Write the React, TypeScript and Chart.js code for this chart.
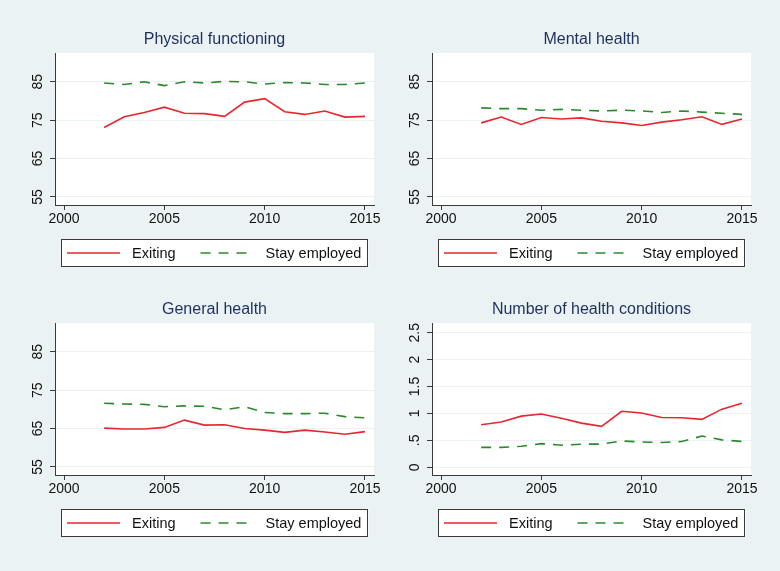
import React, { useEffect, useRef } from "react";
import { Chart, registerables } from "chart.js";

Chart.register(...registerables);

// ---------- data ----------
const years = [2002, 2003, 2004, 2005, 2006, 2007, 2008, 2009, 2010, 2011, 2012, 2013, 2014, 2015];

const physicalExiting = [73.1, 75.9, 77.0, 78.4, 76.8, 76.7, 76.0, 79.7, 80.6, 77.2, 76.5, 77.4, 75.8, 76.0];
const physicalStay = [84.7, 84.3, 85.0, 84.0, 85.0, 84.7, 85.1, 85.0, 84.4, 84.8, 84.7, 84.3, 84.3, 84.7];

const mentalExiting = [74.3, 75.8, 73.9, 75.7, 75.3, 75.6, 74.7, 74.3, 73.6, 74.5, 75.1, 75.9, 73.9, 75.3];
const mentalStay = [78.2, 78.0, 78.0, 77.6, 77.8, 77.6, 77.4, 77.6, 77.4, 77.0, 77.4, 77.1, 76.8, 76.5];

const generalExiting = [65.1, 64.9, 64.9, 65.3, 67.2, 65.9, 66.0, 65.0, 64.6, 64.0, 64.6, 64.1, 63.5, 64.2];
const generalStay = [71.6, 71.4, 71.3, 70.7, 70.9, 70.8, 69.9, 70.7, 69.2, 68.9, 68.9, 69.0, 68.1, 67.8];

const conditionsExiting = [0.79, 0.84, 0.95, 0.99, 0.91, 0.82, 0.76, 1.04, 1.01, 0.925, 0.92, 0.89, 1.08, 1.19];
const conditionsStay = [0.37, 0.37, 0.39, 0.44, 0.41, 0.43, 0.43, 0.49, 0.47, 0.46, 0.48, 0.58, 0.51, 0.48];

const xTicks = [2000, 2005, 2010, 2015];
const scoreTicks = [55, 65, 75, 85];
const scoreTickLabels = ["55", "65", "75", "85"];
const countTicks = [0, 0.5, 1, 1.5, 2, 2.5];
const countTickLabels = ["0", ".5", "1", "1.5", "2", "2.5"];

const seriesNames = ["Exiting", "Stay employed"];
const titles = ["Physical functioning", "Mental health", "General health", "Number of health conditions"];

// ---------- styling ----------
const BG = "#eaf2f3";
const RED = "#e8262e";
const GREEN = "#2a8a2a";
const AXIS = "#3a3a3a";
const TITLE_COLOR = "#1f2f5e";
const FONT = '"Liberation Sans", Arial, Helvetica, sans-serif';
const DASH = [10, 8];

type Panel = {
  left: number;
  top: number;
  width: number;
  height: number;
  pad: { left: number; right: number; top: number; bottom: number };
  title: string;
  exiting: number[];
  stay: number[];
  yMin: number;
  yMax: number;
  yTicks: number[];
  yLabels: string[];
};

const panels: Panel[] = [
  {
    left: 0, top: 0, width: 390, height: 285,
    pad: { left: 15, right: 16, top: 53, bottom: 50 },
    title: titles[0], exiting: physicalExiting, stay: physicalStay,
    yMin: 52.9, yMax: 92.5, yTicks: scoreTicks, yLabels: scoreTickLabels,
  },
  {
    left: 390, top: 0, width: 390, height: 285,
    pad: { left: 2, right: 29, top: 53, bottom: 50 },
    title: titles[1], exiting: mentalExiting, stay: mentalStay,
    yMin: 52.9, yMax: 92.5, yTicks: scoreTicks, yLabels: scoreTickLabels,
  },
  {
    left: 0, top: 285, width: 390, height: 286,
    pad: { left: 15, right: 16, top: 38, bottom: 66 },
    title: titles[2], exiting: generalExiting, stay: generalStay,
    yMin: 52.9, yMax: 92.5, yTicks: scoreTicks, yLabels: scoreTickLabels,
  },
  {
    left: 390, top: 285, width: 390, height: 286,
    pad: { left: 2, right: 29, top: 38, bottom: 66 },
    title: titles[3], exiting: conditionsExiting, stay: conditionsStay,
    yMin: -0.143, yMax: 2.68, yTicks: countTicks, yLabels: countTickLabels,
  },
];

function PanelChart({ p }: { p: Panel }) {
  const ref = useRef<HTMLCanvasElement | null>(null);

  useEffect(() => {
    const canvas = ref.current;
    if (!canvas) return;

    const decorations = {
      id: "stataDecor",
      beforeDraw(chart: any) {
        const { ctx, chartArea } = chart;
        ctx.save();
        ctx.fillStyle = "#ffffff";
        ctx.fillRect(chartArea.left, chartArea.top, chartArea.right - chartArea.left, chartArea.bottom - chartArea.top);
        ctx.restore();
      },
      afterDraw(chart: any) {
        const { ctx, chartArea } = chart;
        const cx = (chartArea.left + chartArea.right) / 2;
        ctx.save();

        // title
        ctx.fillStyle = TITLE_COLOR;
        ctx.font = `16px ${FONT}`;
        ctx.textAlign = "center";
        ctx.textBaseline = "middle";
        ctx.fillText(p.title, cx, chartArea.top - 13);

        // rotated y tick labels
        const yScale = chart.scales.y;
        ctx.fillStyle = "#111111";
        ctx.font = `14px ${FONT}`;
        p.yTicks.forEach((v, i) => {
          const y = yScale.getPixelForValue(v);
          ctx.save();
          ctx.translate(chartArea.left - 17, y);
          ctx.rotate(-Math.PI / 2);
          ctx.textAlign = "center";
          ctx.textBaseline = "middle";
          ctx.fillText(p.yLabels[i], 0, 0);
          ctx.restore();
        });

        // legend box
        ctx.font = `14.5px ${FONT}`;
        const w1 = ctx.measureText(seriesNames[0]).width;
        const w2 = ctx.measureText(seriesNames[1]).width;
        const sample = 53;
        const boxW = 6 + sample + 12 + w1 + 25 + sample + 12 + w2 + 7;
        const boxH = 28;
        const bx = Math.round(cx - boxW / 2);
        const by = Math.round(chartArea.bottom + 34);
        ctx.fillStyle = "#ffffff";
        ctx.fillRect(bx, by, boxW, boxH);
        ctx.strokeStyle = AXIS;
        ctx.lineWidth = 1;
        ctx.strokeRect(bx + 0.5, by + 0.5, Math.round(boxW) - 1, boxH - 1);

        const ly = by + boxH / 2;
        let x = bx + 6;
        ctx.lineWidth = 1.6;
        ctx.strokeStyle = RED;
        ctx.setLineDash([]);
        ctx.beginPath();
        ctx.moveTo(x, ly);
        ctx.lineTo(x + sample, ly);
        ctx.stroke();
        x += sample + 12;
        ctx.fillStyle = "#111111";
        ctx.textAlign = "left";
        ctx.textBaseline = "middle";
        ctx.fillText(seriesNames[0], x, ly + 1);
        x += w1 + 25;
        ctx.strokeStyle = GREEN;
        ctx.setLineDash(DASH);
        ctx.beginPath();
        ctx.moveTo(x, ly);
        ctx.lineTo(x + sample, ly);
        ctx.stroke();
        ctx.setLineDash([]);
        x += sample + 12;
        ctx.fillText(seriesNames[1], x, ly + 1);

        ctx.restore();
      },
    };

    const chart = new Chart(canvas, {
      type: "line",
      data: {
        datasets: [
          {
            label: seriesNames[0],
            data: years.map((yr, i) => ({ x: yr, y: p.exiting[i] })),
            borderColor: RED,
            borderWidth: 1.6,
            pointRadius: 0,
            fill: false,
            tension: 0,
          },
          {
            label: seriesNames[1],
            data: years.map((yr, i) => ({ x: yr, y: p.stay[i] })),
            borderColor: GREEN,
            borderWidth: 1.6,
            borderDash: DASH,
            pointRadius: 0,
            fill: false,
            tension: 0,
          },
        ],
      },
      options: {
        responsive: false,
        animation: false,
        events: [],
        layout: { padding: p.pad },
        plugins: {
          legend: { display: false },
          title: { display: false },
          tooltip: { enabled: false },
        },
        scales: {
          x: {
            type: "linear",
            min: 1999.55,
            max: 2015.45,
            afterBuildTicks: (s: any) => {
              s.ticks = xTicks.map((v) => ({ value: v }));
            },
            afterFit: (s: any) => {
              s.height = 30;
            },
            ticks: {
              autoSkip: false,
              maxRotation: 0,
              minRotation: 0,
              padding: 1,
              color: "#111111",
              font: { family: FONT, size: 14 },
              callback: (v: any) => String(v),
            },
            grid: {
              drawOnChartArea: false,
              drawTicks: true,
              tickLength: 5,
              tickColor: AXIS,
            },
            border: { display: true, color: AXIS, width: 1 },
          },
          y: {
            type: "linear",
            min: p.yMin,
            max: p.yMax,
            afterBuildTicks: (s: any) => {
              s.ticks = p.yTicks.map((v) => ({ value: v }));
            },
            afterFit: (s: any) => {
              s.width = 40;
            },
            ticks: { display: false },
            grid: {
              color: BG,
              lineWidth: 1,
              drawTicks: true,
              tickLength: 5,
              tickColor: AXIS,
            },
            border: { display: true, color: AXIS, width: 1 },
          },
        },
      },
      plugins: [decorations],
    } as any);

    return () => chart.destroy();
  }, [p]);

  return (
    <canvas
      ref={ref}
      width={p.width}
      height={p.height}
      style={{ position: "absolute", left: p.left, top: p.top, width: p.width, height: p.height }}
    />
  );
}

export default function App() {
  return (
    <div
      style={{
        position: "absolute",
        left: 0,
        top: 0,
        width: 780,
        height: 571,
        background: BG,
        overflow: "hidden",
      }}
    >
      {panels.map((p, i) => (
        <PanelChart key={i} p={p} />
      ))}
    </div>
  );
}
